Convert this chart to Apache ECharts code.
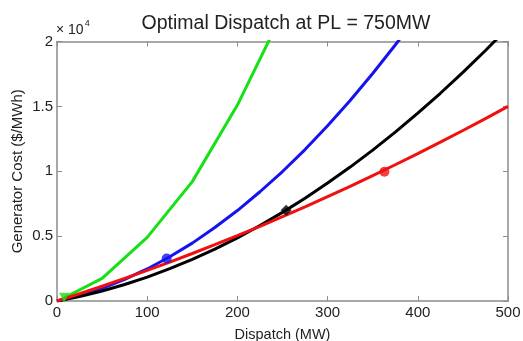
<!DOCTYPE html>
<html><head><meta charset="utf-8">
<script src="https://cdn.jsdelivr.net/npm/echarts@6/dist/echarts.min.js"></script>
<style>html,body{margin:0;padding:0;background:#fff}#c{width:523px;height:341px}</style>
</head><body><div id="c"></div>
<script>
// Generator cost in units of 10^4 $/MWh vs dispatch (MW)
const dispatchGreen = [8, 50, 100, 150, 200, 250];
const costGreen     = [0.025, 0.175, 0.49, 0.92, 1.51, 2.22];
const dispatchStep  = [0, 25, 50, 75, 100, 125, 150, 175, 200, 225, 250, 275, 300, 325, 350, 375, 400, 425, 450, 475, 500];
const costBlue  = [0, 0.043, 0.098, 0.166, 0.247, 0.341, 0.446, 0.566, 0.697, 0.842, 0.998, 1.167, 1.350, 1.545, 1.753, 1.973, 2.205, null, null, null, null];
const costBlack = [0, 0.035, 0.077, 0.127, 0.184, 0.249, 0.321, 0.400, 0.487, 0.582, 0.683, 0.792, 0.909, 1.032, 1.163, 1.302, 1.448, 1.601, 1.762, 1.931, 2.106];
const costRed   = [0, 0.056, 0.114, 0.174, 0.236, 0.300, 0.366, 0.434, 0.504, 0.576, 0.650, 0.726, 0.804, 0.884, 0.966, 1.050, 1.136, 1.224, 1.314, 1.406, 1.500];
// optimal operating points
const optGreen = [8, 0.025];
const optBlue  = [121.6, 0.327];
const optBlack = [254, 0.70];
const optRed   = [363, 0.996];
const xTicks = [0, 100, 200, 300, 400, 500];
const yTicks = [0, 0.5, 1, 1.5, 2];

const pair = (xs, ys) => xs.map((x, i) => [x, ys[i]]).filter(p => p[1] !== null);
const font = 'Liberation Sans, Arial, sans-serif';
const axisColor = '#8c8c8c';

const chart = echarts.init(document.getElementById('c'), null, {renderer: 'canvas'});
const line = (name, color, data) => ({
  type: 'line', name, data, showSymbol: false, symbol: 'none',
  lineStyle: {color, width: 3}, itemStyle: {color}, clip: true, z: 3
});
const dot = (name, color, symbol, size, pt, rot) => ({
  type: 'scatter', name, data: [pt], symbol, symbolSize: size, symbolRotate: rot || 0,
  itemStyle: {color}, z: 5, clip: false
});
const boxAxis = {
  axisLine: {show: true, onZero: false, lineStyle: {color: axisColor, width: 1.5}},
  axisTick: {show: true, inside: true, length: 5, lineStyle: {color: axisColor}},
  splitLine: {show: false}
};
chart.setOption({
  animation: false,
  backgroundColor: '#fff',
  title: {
    text: 'Optimal Dispatch at PL = 750MW', left: 281, top: 9, textAlign: 'center',
    textStyle: {fontFamily: font, fontSize: 19.5, fontWeight: 'normal', color: '#222'}
  },
  grid: {left: 57, right: 15, top: 41.5, bottom: 40, containLabel: false, outerBoundsMode: 'none'},
  xAxis: [Object.assign({
    type: 'value', min: 0, max: 500, interval: 100,
    name: 'Dispatch (MW)', nameLocation: 'middle', nameGap: 26, nameMoveOverlap: false,
    nameTextStyle: {fontFamily: font, fontSize: 14.5, color: '#222'},
    axisLabel: {fontFamily: font, fontSize: 15, color: '#222', margin: 4,
      formatter: v => xTicks.includes(v) ? String(v) : ''}
  }, boxAxis), Object.assign({
    type: 'value', min: 0, max: 500, interval: 100, position: 'top',
    axisLabel: {show: false}
  }, boxAxis)],
  yAxis: [Object.assign({
    type: 'value', min: 0, max: 2, interval: 0.5,
    name: 'Generator Cost ($/MWh)', nameLocation: 'middle', nameGap: 32, nameMoveOverlap: false,
    nameTextStyle: {fontFamily: font, fontSize: 15, color: '#222'},
    axisLabel: {fontFamily: font, fontSize: 15, color: '#222', margin: 4,
      formatter: v => yTicks.includes(v) ? String(v) : ''}
  }, boxAxis), Object.assign({
    type: 'value', min: 0, max: 2, interval: 0.5, position: 'right',
    axisLabel: {show: false}
  }, boxAxis)],
  graphic: [{
    type: 'text', left: 56, top: 19,
    style: {
      text: '{a|× 10}{b|4}', fontFamily: font,
      rich: {a: {fontSize: 14, fill: '#222', verticalAlign: 'bottom'},
             b: {fontSize: 9, fill: '#222', verticalAlign: 'top', padding: [0, 0, 9, 1]}}
    }
  }],
  series: [
    line('G1', '#16e016', pair(dispatchGreen, costGreen)),
    line('G2', '#1414f0', pair(dispatchStep, costBlue)),
    line('G3', '#000000', pair(dispatchStep, costBlack)),
    line('G4', '#f01010', pair(dispatchStep, costRed)),
    dot('G1 opt', '#16e016', 'triangle', 10, optGreen, 180),
    dot('G2 opt', '#1414f0', 'circle', 10, optBlue),
    dot('G3 opt', '#000000', 'diamond', 11, optBlack),
    dot('G4 opt', '#f01010', 'circle', 10, optRed)
  ]
});
</script></body></html>
